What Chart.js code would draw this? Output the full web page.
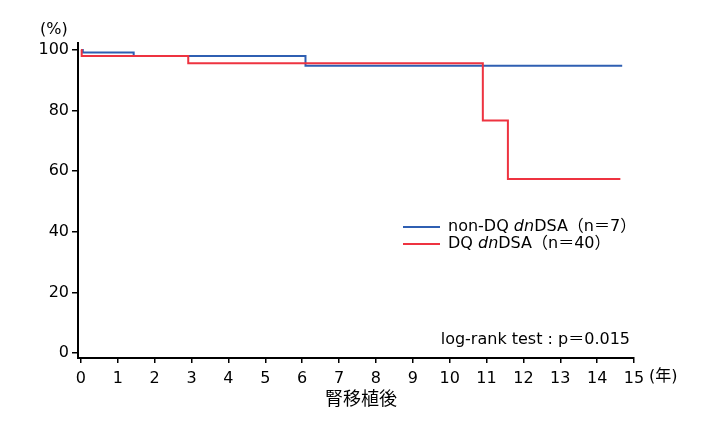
<!DOCTYPE html>
<html>
<head>
<meta charset="utf-8">
<script src="https://cdn.jsdelivr.net/npm/chart.js@4"></script>
<style>
  html, body { margin: 0; padding: 0; background: #fff; }
  #wrap { width: 720px; height: 433px; position: relative; }
</style>
</head>
<body>
<div id="wrap"><canvas id="kmChart"></canvas></div>
<script>
// Kaplan-Meier curves (years after transplant, survival %)
const nonDqTimes = [0, 0.05, 1.43, 6.09, 14.68];
const nonDqSurv = [100, 99.2, 98.0, 94.8, 94.8];
const dqTimes = [0, 0.02, 2.91, 10.9, 11.58, 14.63];
const dqSurv = [100, 98.0, 95.6, 76.7, 57.4, 57.4];
const xTicks = [0, 1, 2, 3, 4, 5, 6, 7, 8, 9, 10, 11, 12, 13, 14, 15];
const yTicks = [0, 20, 40, 60, 80, 100];

const BLUE = '#2f5fb2';
const RED = '#ee3340';
const FONT = "'DejaVu Sans', 'Noto Sans CJK JP', sans-serif";

function toPoints(xs, ys) {
    return xs.map((x, i) => ({ x: x, y: ys[i] }));
}

// legend, axis units and test result drawn on top of the chart
const extraText = {
    id: 'extraText',
    afterDraw(chart) {
        const c = chart.ctx;
        c.save();
        c.fillStyle = '#000';
        c.textBaseline = 'middle';

        c.font = '16px ' + FONT;
        c.textAlign = 'left';
        c.fillText('(%)', 40, 30);
        c.fillText('(年)', 649, 377);

        c.font = '18px ' + FONT;
        c.textAlign = 'center';
        c.fillText('腎移植後', 361, 400);

        c.font = '16px ' + FONT;
        c.textAlign = 'right';
        c.fillText('log-rank test : p＝0.015', 630, 340);

        // legend
        const items = [
            { color: BLUE, parts: ['non-DQ ', 'dn', 'DSA（n＝7）'], y: 227 },
            { color: RED, parts: ['DQ ', 'dn', 'DSA（n＝40）'], y: 244 }
        ];
        c.textAlign = 'left';
        items.forEach(it => {
            c.strokeStyle = it.color;
            c.lineWidth = 2;
            c.beginPath();
            c.moveTo(403, it.y);
            c.lineTo(440, it.y);
            c.stroke();
            let x = 448;
            it.parts.forEach((p, i) => {
                c.font = (i === 1 ? 'italic ' : '') + '16px ' + FONT;
                c.fillText(p, x, it.y);
                x += c.measureText(p).width;
            });
        });
        c.restore();
    }
};

new Chart(document.getElementById('kmChart'), {
    type: 'line',
    data: {
        datasets: [
            {
                label: 'non-DQ dnDSA（n=7）',
                data: toPoints(nonDqTimes, nonDqSurv),
                borderColor: BLUE,
                borderWidth: 2,
                stepped: 'before',
                pointRadius: 0,
                fill: false,
                order: 2
            },
            {
                label: 'DQ dnDSA（n=40）',
                data: toPoints(dqTimes, dqSurv),
                borderColor: RED,
                borderWidth: 2,
                stepped: 'before',
                pointRadius: 0,
                fill: false,
                order: 1
            }
        ]
    },
    options: {
        responsive: true,
        maintainAspectRatio: false,
        animation: false,
        layout: { padding: { left: 0, right: 86, top: 43, bottom: 0 } },
        plugins: {
            legend: { display: false },
            tooltip: { enabled: false }
        },
        scales: {
            x: {
                type: 'linear',
                min: -0.08,
                max: 15,
                afterBuildTicks: s => { s.ticks = xTicks.map(v => ({ value: v })); },
                afterFit: s => { s.height = 75; },
                border: { display: true, color: '#000', width: 2 },
                grid: { drawOnChartArea: false, drawTicks: true, tickLength: 5, color: '#000', lineWidth: 1.5 },
                ticks: { color: '#000', padding: 6, maxRotation: 0, autoSkip: false, font: { family: FONT, size: 16 } }
            },
            y: {
                min: -1.65,
                max: 102.3,
                afterBuildTicks: s => { s.ticks = yTicks.map(v => ({ value: v })); },
                afterFit: s => { s.width = 78; },
                border: { display: true, color: '#000', width: 2 },
                grid: { drawOnChartArea: false, drawTicks: true, tickLength: 6, color: '#000', lineWidth: 1.5 },
                ticks: { color: '#000', padding: 3, font: { family: FONT, size: 16 } }
            }
        }
    },
    plugins: [extraText]
});
</script>
</body>
</html>
